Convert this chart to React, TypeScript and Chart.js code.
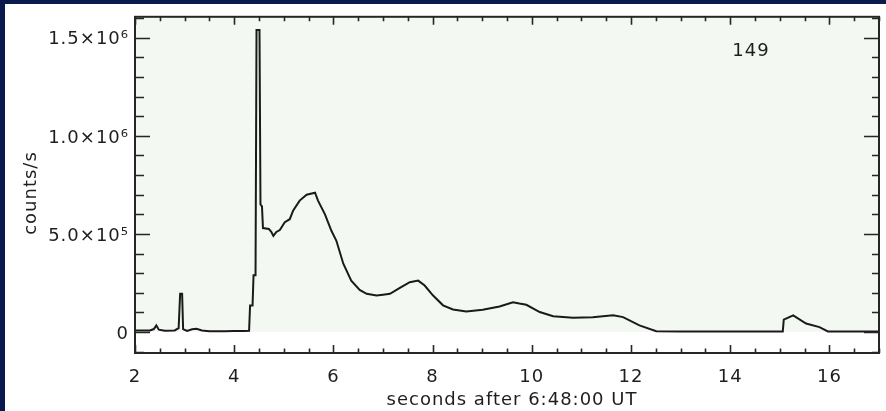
import React, { useEffect, useRef } from "react";
import { Chart, registerables } from "chart.js";

Chart.register(...registerables);

// time (s after 6:48:00 UT)
const times: number[] = [
  2.0, 2.3, 2.38, 2.43, 2.48, 2.6, 2.8, 2.88, 2.91, 2.95, 2.97, 3.05, 3.15, 3.24, 3.35, 3.5, 3.8, 4.0, 4.2, 4.3,
  4.32, 4.37, 4.39, 4.43, 4.45, 4.51, 4.53, 4.56, 4.58, 4.7, 4.75, 4.79, 4.85, 4.92, 5.02, 5.12, 5.19, 5.32, 5.46,
  5.63, 5.69, 5.83, 5.96, 6.06, 6.2, 6.36, 6.53, 6.67, 6.87, 7.0, 7.14, 7.34, 7.54, 7.71, 7.84, 8.01, 8.21, 8.41,
  8.68, 9.01, 9.35, 9.62, 9.75, 9.89, 10.16, 10.43, 10.83, 11.23, 11.64, 11.84, 12.17, 12.51, 13.0, 14.0, 15.06,
  15.08, 15.27, 15.53, 15.8, 15.97, 17.0,
];
// counts/s
const counts: number[] = [
  8e3, 8e3, 1.5e4, 3.4e4, 1.2e4, 6e3, 8e3, 2e4, 1.95e5, 1.95e5, 1.5e4, 6e3, 1.4e4, 1.7e4, 8e3, 4e3, 4e3, 5e3, 5e3, 6e3,
  1.35e5, 1.35e5, 2.9e5, 2.9e5, 1.54e6, 1.54e6, 6.5e5, 6.4e5, 5.3e5, 5.25e5, 5.1e5, 4.9e5, 5.1e5, 5.2e5, 5.6e5, 5.75e5,
  6.2e5, 6.7e5, 7.0e5, 7.1e5, 6.7e5, 6.0e5, 5.16e5, 4.65e5, 3.48e5, 2.62e5, 2.15e5, 1.95e5, 1.86e5, 1.9e5, 1.95e5,
  2.25e5, 2.54e5, 2.62e5, 2.37e5, 1.86e5, 1.36e5, 1.15e5, 1.05e5, 1.14e5, 1.3e5, 1.52e5, 1.45e5, 1.39e5, 1.02e5, 8e4,
  7.3e4, 7.5e4, 8.5e4, 7.6e4, 3.4e4, 4e3, 3e3, 3e3, 3e3, 6.3e4, 8.5e4, 4.3e4, 2.5e4, 3e3, 3e3,
];

const xMajorTicks: number[] = [2, 4, 6, 8, 10, 12, 14, 16];
const yMajorTicks: number[] = [0, 5e5, 1e6, 1.5e6];
const yTickLabels: string[] = ["0", "5.0×10⁵", "1.0×10⁶", "1.5×10⁶"];
const xTitle = "seconds after 6:48:00 UT";
const yTitle = "counts/s";
const annotation = "149";

const FONT = "'DejaVu Sans', sans-serif";
const NAVY = "#0b1a4e";
const INK = "#1e1e1e";

export default function App() {
  const ref = useRef<HTMLCanvasElement | null>(null);

  useEffect(() => {
    const canvas = ref.current;
    if (!canvas) return;

    const framePlugin = {
      id: "frame",
      beforeDraw(chart: any) {
        const { ctx, chartArea: a, scales } = chart;
        ctx.save();
        const y0 = scales.y.getPixelForValue(0);
        ctx.fillStyle = "#f3f8f2";
        ctx.fillRect(a.left, a.top, a.right - a.left, y0 - a.top);
        ctx.restore();
        (ctx as any).letterSpacing = "1px";
      },
      afterDraw(chart: any) {
        const { ctx, chartArea: a, scales } = chart;
        const xs = scales.x;
        const ys = scales.y;
        ctx.save();
        ctx.strokeStyle = "#262626";
        ctx.lineWidth = 2;
        ctx.strokeRect(a.left, a.top, a.right - a.left, a.bottom - a.top);
        ctx.lineWidth = 1.6;
        ctx.beginPath();
        for (let i = 0; i <= 30; i++) {
          const v = 2 + i * 0.5;
          if (v > 17) break;
          const major = Math.abs(v % 2) < 1e-9;
          const len = major ? 8 : 4.5;
          const px = Math.round(xs.getPixelForValue(v)) + 0.5;
          ctx.moveTo(px, a.bottom);
          ctx.lineTo(px, a.bottom - len);
          ctx.moveTo(px, a.top);
          ctx.lineTo(px, a.top + len);
        }
        for (let i = -1; i <= 16; i++) {
          const v = i * 1e5;
          if (v < ys.min || v > ys.max) continue;
          const major = i % 5 === 0;
          const py = Math.round(ys.getPixelForValue(v)) + 0.5;
          ctx.moveTo(a.left, py);
          ctx.lineTo(a.left + (major ? 15 : 9), py);
          ctx.moveTo(a.right, py);
          ctx.lineTo(a.right - (major ? 15 : 7), py);
        }
        ctx.stroke();

        ctx.fillStyle = INK;
        ctx.font = `18px ${FONT}`;
        ctx.textAlign = "center";
        ctx.textBaseline = "alphabetic";
        ctx.fillText(xTitle, (a.left + a.right) / 2 + 5, 405);
        ctx.fillText(annotation, 751, 56);
        ctx.save();
        ctx.translate(36, 193);
        ctx.rotate(-Math.PI / 2);
        ctx.fillText(yTitle, 0, 0);
        ctx.restore();
        ctx.restore();
      },
    };

    const chart = new Chart(canvas, {
      type: "line",
      data: {
        datasets: [
          {
            data: times.map((t, i) => ({ x: t, y: counts[i] })),
            borderColor: "#1a1a1a",
            borderWidth: 2,
            pointRadius: 0,
            tension: 0,
            fill: false,
          },
        ],
      },
      options: {
        animation: false,
        responsive: false,
        events: [],
        layout: { padding: { left: 0, right: 7, top: 15, bottom: 0 } },
        plugins: { legend: { display: false }, tooltip: { enabled: false } },
        scales: {
          x: {
            type: "linear",
            min: 2,
            max: 17,
            grid: { display: false, drawTicks: false },
            border: { display: false },
            afterBuildTicks: (s: any) => {
              s.ticks = xMajorTicks.map((v) => ({ value: v }));
            },
            afterFit: (s: any) => {
              s.height = 58;
            },
            ticks: {
              color: INK,
              font: { family: FONT, size: 18 },
              padding: 14,
              maxRotation: 0,
              autoSkip: false,
              callback: (v: any) => String(v),
            },
          },
          y: {
            type: "linear",
            min: -1.07e5,
            max: 1.607e6,
            grid: { display: false, drawTicks: false },
            border: { display: false },
            afterBuildTicks: (s: any) => {
              s.ticks = yMajorTicks.map((v) => ({ value: v }));
            },
            afterFit: (s: any) => {
              s.width = 135;
            },
            ticks: {
              color: INK,
              font: { family: FONT, size: 18 },
              padding: 6,
              labelOffset: 2,
              autoSkip: false,
              callback: (v: any) => {
                const idx = yMajorTicks.indexOf(Number(v));
                return idx >= 0 ? yTickLabels[idx] : "";
              },
            },
          },
        },
      },
      plugins: [framePlugin],
    });

    return () => chart.destroy();
  }, []);

  return (
    <div
      style={{
        position: "fixed",
        left: 0,
        top: 0,
        width: 886,
        height: 411,
        background: "#ffffff",
        overflow: "hidden",
      }}
    >
      <div style={{ position: "absolute", left: 0, top: 0, width: 886, height: 4, background: NAVY }} />
      <div style={{ position: "absolute", left: 0, top: 0, width: 5, height: 411, background: NAVY }} />
      <canvas
        ref={ref}
        width={886}
        height={411}
        style={{ position: "absolute", left: 0, top: 0, display: "block", width: 886, height: 411 }}
      />
    </div>
  );
}
